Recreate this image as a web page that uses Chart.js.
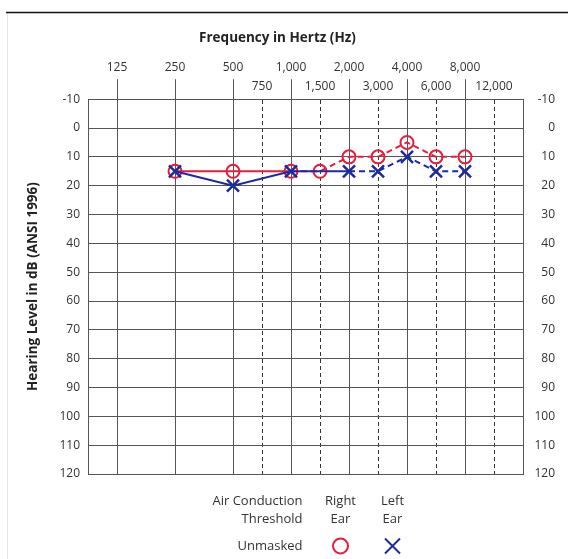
<!DOCTYPE html>
<html>
<head>
<meta charset="utf-8">
<script src="https://cdn.jsdelivr.net/npm/chart.js@4.4.1/dist/chart.umd.min.js"></script>
<style>
  html, body { margin: 0; background: #fff; }
  #wrap { width: 568px; height: 559px; position: relative; }
</style>
</head>
<body>
<div id="wrap"><canvas id="audiogram"></canvas></div>
<script>
// tested frequencies (Hz) and thresholds (dB HL)
const testFreqs = [250, 500, 1000, 1500, 2000, 3000, 4000, 6000, 8000];
const rightEar  = [15, 15, 15, 15, 10, 10, 5, 10, 10];
const leftEar   = [15, 20, 15, null, 15, 15, 10, 15, 15];

// axis labels
const octaveFreqs = [125, 250, 500, 1000, 2000, 4000, 8000];
const midFreqs    = [750, 1500, 3000, 6000, 12000];
const dbMin = -10, dbMax = 120, dbStep = 10;

const RED  = '#e41e3c';
const BLUE = '#1d2a9e';
const GRID = '#555';
const TEXT = '#333';

Chart.defaults.font.family = "'Open Sans', sans-serif";
Chart.defaults.font.size = 12;
Chart.defaults.color = TEXT;

// position in octaves above 125 Hz, inter-octave freqs sit half way
const octPos = f => Math.round(Math.log2(f / 125) * 2) / 2;
const isMid = v => v % 1 !== 0;
const freqAt = new Map([...octaveFreqs, ...midFreqs].map(f => [octPos(f), f]));
const fmt = f => f.toLocaleString('en-US');
const toPoints = vals => testFreqs.map((f, i) => ({ x: octPos(f), y: vals[i] }));
const midTick = ctx => ctx.tick && isMid(ctx.tick.value);

// page frame: rule on top, faint edge on the left
const framePlugin = {
  id: 'frame',
  beforeDraw(chart) {
    const { ctx, width, height } = chart;
    ctx.save();
    ctx.fillStyle = '#fff';
    ctx.fillRect(0, 0, width, height);
    ctx.strokeStyle = '#e6e6e6';
    ctx.lineWidth = 1;
    ctx.beginPath();
    ctx.moveTo(7.5, 13);
    ctx.lineTo(7.5, height);
    ctx.stroke();
    ctx.strokeStyle = '#111';
    ctx.lineWidth = 1.5;
    ctx.beginPath();
    ctx.moveTo(6, 12.5);
    ctx.lineTo(width, 12.5);
    ctx.stroke();
    ctx.restore();
  }
};

// symbol key under the grid
const keyPlugin = {
  id: 'key',
  afterDraw(chart) {
    const { ctx, chartArea: a } = chart;
    const cx = (a.left + a.right) / 2;
    const rows = [a.bottom + 27, a.bottom + 45, a.bottom + 72];
    const colR = cx + 35, colL = cx + 87;
    ctx.save();
    ctx.font = "13px 'Open Sans', sans-serif";
    ctx.fillStyle = TEXT;
    ctx.textBaseline = 'middle';
    ctx.textAlign = 'right';
    ctx.fillText('Air Conduction', cx - 3, rows[0]);
    ctx.fillText('Threshold', cx - 3, rows[1]);
    ctx.fillText('Unmasked', cx - 3, rows[2]);
    ctx.textAlign = 'center';
    ctx.fillText('Right', colR, rows[0]);
    ctx.fillText('Ear', colR, rows[1]);
    ctx.fillText('Left', colL, rows[0]);
    ctx.fillText('Ear', colL, rows[1]);
    ctx.lineWidth = 2;
    ctx.strokeStyle = RED;
    ctx.beginPath();
    ctx.arc(colR, rows[2], 7.5, 0, Math.PI * 2);
    ctx.stroke();
    ctx.strokeStyle = BLUE;
    ctx.beginPath();
    ctx.moveTo(colL - 7.5, rows[2] - 7.5);
    ctx.lineTo(colL + 7.5, rows[2] + 7.5);
    ctx.moveTo(colL + 7.5, rows[2] - 7.5);
    ctx.lineTo(colL - 7.5, rows[2] + 7.5);
    ctx.stroke();
    ctx.restore();
  }
};

new Chart(document.getElementById('audiogram'), {
  type: 'line',
  data: {
    datasets: [
      {
        label: 'Left Ear',
        data: toPoints(leftEar),
        order: 0,
        spanGaps: true,
        borderColor: BLUE,
        borderWidth: 2,
        pointStyle: 'crossRot',
        pointRadius: 8.5,
        pointBorderWidth: 2.5,
        pointBorderColor: BLUE,
        segment: { borderDash: ctx => ctx.p0DataIndex >= 4 ? [6, 4] : undefined },
      },
      {
        label: 'Right Ear',
        data: toPoints(rightEar),
        order: 1,
        borderColor: RED,
        borderWidth: 2,
        pointStyle: 'circle',
        pointRadius: 6.5,
        pointBorderWidth: 2,
        pointBorderColor: RED,
        pointBackgroundColor: 'rgba(0,0,0,0)',
        segment: { borderDash: ctx => ctx.p0DataIndex >= 2 ? [6, 4] : undefined },
      },
    ],
  },
  options: {
    responsive: true,
    maintainAspectRatio: false,
    animation: false,
    layout: { padding: { top: 20, left: 0, right: 13, bottom: 85 } },
    plugins: {
      legend: { display: false },
      tooltip: { enabled: false },
      title: {
        display: true,
        text: 'Frequency in Hertz (Hz)',
        color: '#222',
        font: { size: 13.5, weight: 'bold' },
        padding: { top: 10, bottom: 11 },
      },
    },
    scales: {
      x: {
        type: 'linear',
        position: 'top',
        min: -0.5,
        max: 7,
        afterBuildTicks: s => {
          s.ticks = [...freqAt.keys()].sort((p, q) => p - q).map(v => ({ value: v }));
        },
        afterFit: s => { s.height = 42; },
        ticks: {
          autoSkip: false,
          maxRotation: 0,
          padding: -17,
          font: { size: 12, lineHeight: 1.6 },
          callback: v => isMid(v) ? ['', fmt(freqAt.get(v))] : [fmt(freqAt.get(v)), ''],
        },
        grid: {
          color: ctx => midTick(ctx) ? '#333' : GRID,
          tickColor: ctx => midTick(ctx) ? 'rgba(0,0,0,0)' : GRID,
          tickLength: 20,
        },
        border: { color: GRID, dash: ctx => midTick(ctx) ? [4, 3] : [] },
      },
      y: {
        position: 'left',
        min: dbMin,
        max: dbMax,
        reverse: true,
        ticks: { stepSize: dbStep, padding: 8 },
        grid: { color: GRID, drawTicks: false },
        border: { color: GRID },
        title: {
          display: true,
          text: 'Hearing Level in dB (ANSI 1996)',
          color: '#222',
          font: { size: 13.5, weight: 'bold' },
          padding: { top: 25, bottom: 0 },
        },
        afterFit: s => { s.width = 88; },
      },
      y2: {
        position: 'right',
        min: dbMin,
        max: dbMax,
        reverse: true,
        ticks: { stepSize: dbStep, crossAlign: 'far' },
        grid: { display: false, drawTicks: false },
        border: { color: GRID },
        afterFit: s => { s.width = 32; },
      },
    },
  },
  plugins: [framePlugin, keyPlugin],
});
</script>
</body>
</html>
